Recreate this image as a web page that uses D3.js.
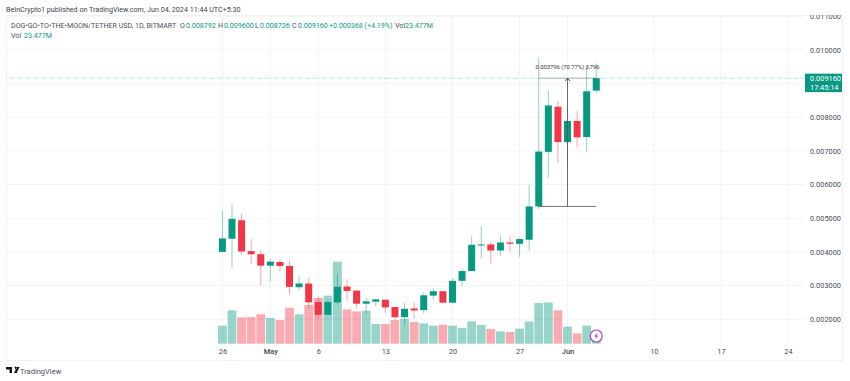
<!DOCTYPE html>
<html>
<head>
<meta charset="utf-8">
<script src="https://cdn.jsdelivr.net/npm/d3@7"></script>
<style>
  html, body { margin: 0; padding: 0; background: #fff; }
  svg { display: block; font-family: Roboto, "Liberation Sans", sans-serif; }
</style>
</head>
<body>
<div id="chart"></div>
<script>
// day 0 = Apr 26, one row per daily candle
var opens  = [.00400,.00439,.00494,.00402,.00393,.00359,.00370,.00358,.00295,.00306,.00251,.00213,.00250,.00297,.00285,.00246,.00252,.00258,.00236,.00206,.00232,.00227,.00270,.00283,.00249,.00314,.00343,.00421,.00422,.00404,.00428,.00424,.00436,.00535,.00697,.00831,.00726,.00789,.00741,.00879];
var highs  = [.00523,.00541,.00515,.00438,.00403,.00379,.00378,.00373,.00328,.00321,.00267,.00258,.00337,.00319,.00285,.00265,.00259,.00258,.00238,.00248,.00250,.00280,.00292,.00283,.00321,.00349,.00446,.00477,.00431,.00448,.00448,.00441,.00599,.00978,.00880,.00849,.00830,.00819,.00950,.00960];
var lows   = [.00400,.00353,.00394,.00364,.00300,.00311,.00341,.00273,.00285,.00231,.00200,.00213,.00243,.00253,.00231,.00217,.00238,.00217,.00198,.00183,.00202,.00217,.00258,.00249,.00249,.00300,.00343,.00381,.00365,.00389,.00400,.00384,.00403,.00527,.00620,.00664,.00663,.00711,.00697,.00873];
var closes = [.00440,.00498,.00401,.00393,.00359,.00371,.00358,.00296,.00306,.00250,.00213,.00251,.00296,.00284,.00246,.00253,.00259,.00235,.00206,.00231,.00226,.00271,.00283,.00249,.00314,.00343,.00421,.00422,.00404,.00428,.00424,.00438,.00535,.00698,.00835,.00726,.00789,.00740,.00877,.00916];
var volumes = [157,290,229,232,255,224,206,313,255,337,398,418,713,298,281,287,171,171,206,215,189,177,157,165,157,137,194,163,128,107,102,131,194,354,359,290,148,90,157,23.477];

var priceTicks = [.011,.010,.008,.007,.006,.005,.004,.003,.002];
var gridPrices = [.011,.010,.009,.008,.007,.006,.005,.004,.003,.002];
var dayTicks = [0,5,10,17,24,31,36,45,52,59];
var dayLabels = ["26","May","6","13","20","27","Jun","10","17","24"];

var lastPrice = .00916;
var measureFrom = .00535;

var width = 850, height = 381;
var frame = {left: 6, right: 842, top: 15, bottom: 360, plotRight: 805};

var green = "#089981", red = "#f23645";
var textColor = "#4a4e5a";

var x = d3.scaleLinear().domain([0, 59]).range([222.4, 788]);
var y = d3.scaleLinear().domain([.002, .011]).range([319.2, 16.2]);
var yVol = d3.scaleLinear().domain([0, 713]).range([343.7, 261.7]);

var svg = d3.select("#chart").append("svg")
    .attr("width", width)
    .attr("height", height)
    .attr("viewBox", [0, 0, width, height]);

svg.append("clipPath").attr("id", "frame-clip")
  .append("rect")
    .attr("x", frame.left).attr("y", frame.top)
    .attr("width", frame.right - frame.left)
    .attr("height", frame.bottom - frame.top);

// frame
svg.append("rect")
    .attr("x", frame.left + .5).attr("y", frame.top + .5)
    .attr("width", frame.right - frame.left)
    .attr("height", frame.bottom - frame.top)
    .attr("fill", "none")
    .attr("stroke", "#eef0f5");

// grid
svg.append("g").selectAll("line")
  .data(gridPrices)
  .join("line")
    .attr("x1", frame.left).attr("x2", frame.plotRight)
    .attr("y1", d => y(d)).attr("y2", d => y(d))
    .attr("stroke", "#f3f4f7");

svg.append("g").selectAll("line")
  .data(dayTicks)
  .join("line")
    .attr("x1", d => x(d)).attr("x2", d => x(d))
    .attr("y1", frame.top).attr("y2", yVol(0))
    .attr("stroke", "#f3f4f7");

// volume bars
svg.append("g").selectAll("rect")
  .data(volumes)
  .join("rect")
    .attr("x", (d, i) => x(i) - 4.4)
    .attr("width", 8.8)
    .attr("y", d => yVol(d))
    .attr("height", d => yVol(0) - yVol(d))
    .attr("fill", (d, i) => closes[i] >= opens[i] ? green : red)
    .attr("fill-opacity", .42);

// wicks
svg.append("g").selectAll("line")
  .data(opens)
  .join("line")
    .attr("x1", (d, i) => x(i)).attr("x2", (d, i) => x(i))
    .attr("y1", (d, i) => y(highs[i]))
    .attr("y2", (d, i) => y(lows[i]))
    .attr("stroke", (d, i) => closes[i] >= d ? green : red)
    .attr("stroke-opacity", .45);

// candle bodies
svg.append("g").selectAll("rect")
  .data(opens)
  .join("rect")
    .attr("x", (d, i) => x(i) - 3.5)
    .attr("width", 7)
    .attr("y", (d, i) => y(Math.max(d, closes[i])))
    .attr("height", (d, i) => Math.max(1, Math.abs(y(d) - y(closes[i]))))
    .attr("fill", (d, i) => closes[i] >= d ? green : red);

// last price line
svg.append("line")
    .attr("x1", frame.left).attr("x2", frame.plotRight)
    .attr("y1", y(lastPrice)).attr("y2", y(lastPrice))
    .attr("stroke", green)
    .attr("stroke-opacity", .35)
    .attr("stroke-dasharray", "1 1");

// measure tool
var measure = svg.append("g").attr("stroke", "#555").attr("fill", "none");
measure.append("line")
    .attr("x1", x(33)).attr("x2", x(39))
    .attr("y1", y(measureFrom)).attr("y2", y(measureFrom))
    .attr("stroke-opacity", .8);
measure.append("line")
    .attr("x1", x(33)).attr("x2", x(39))
    .attr("y1", y(lastPrice)).attr("y2", y(lastPrice))
    .attr("stroke-opacity", .4);
measure.append("line")
    .attr("x1", x(36)).attr("x2", x(36))
    .attr("y1", y(measureFrom)).attr("y2", y(lastPrice))
    .attr("stroke-opacity", .85);
measure.append("path")
    .attr("d", d3.line()([[x(36) - 2.5, y(lastPrice) + 3], [x(36), y(lastPrice)], [x(36) + 2.5, y(lastPrice) + 3]]));
svg.append("text")
    .attr("x", x(36))
    .attr("y", y(lastPrice) - 9.5)
    .attr("text-anchor", "middle")
    .attr("font-size", 5.8)
    .attr("fill", "#333")
    .text("0.003796 (70.77%) 3,796");

// price axis
var yAxis = svg.append("g")
    .attr("clip-path", "url(#frame-clip)")
  .append("g")
    .attr("transform", `translate(${frame.plotRight + 1},0)`)
    .call(d3.axisRight(y).tickValues(priceTicks).tickFormat(d3.format(".6f")).tickSize(0).tickPadding(4))
    .call(g => g.select(".domain").remove());
yAxis.selectAll("text")
    .attr("font-family", "Roboto, sans-serif")
    .attr("font-size", 7.4)
    .attr("fill", textColor);

// time axis
var xAxis = svg.append("g")
    .attr("transform", `translate(0,${yVol(0)})`)
    .call(d3.axisBottom(x).tickValues(dayTicks).tickFormat((d, i) => dayLabels[i]).tickSize(0).tickPadding(5))
    .call(g => g.select(".domain").remove());
xAxis.selectAll("text")
    .attr("font-family", "Roboto, sans-serif")
    .attr("font-size", 7.4)
    .attr("fill", textColor)
    .attr("font-weight", (d, i) => isNaN(+dayLabels[i]) ? 600 : 400);

// last price tag
svg.append("rect")
    .attr("x", frame.plotRight).attr("y", y(lastPrice) - 4.5)
    .attr("width", frame.right - frame.plotRight).attr("height", 18.5)
    .attr("fill", green);
var tag = svg.append("g").attr("fill", "#fff").attr("font-size", 7.4);
tag.append("text").attr("x", frame.plotRight + 5).attr("y", y(lastPrice) + 3).text("0.009160");
tag.append("text").attr("x", frame.plotRight + 5).attr("y", y(lastPrice) + 11.5).text("17:45:14");

// lightning badge
var badge = svg.append("g").attr("transform", `translate(${x(39)},336)`);
badge.append("circle").attr("r", 6).attr("fill", "#fff").attr("stroke", "#ab47bc").attr("stroke-width", 1.2);
badge.append("path").attr("d", "M1,-3.5L-2,.5H-.2L-1,3.5L2,-.5H.2Z").attr("fill", "#ab47bc");

// header
svg.append("text").attr("x", 6).attr("y", 12)
    .attr("font-size", 7.15).attr("fill", "#3b3f4a")
    .text("BeInCrypto1 published on TradingView.com, Jun 04, 2024 11:44 UTC+5:30");

var legendParts = [
  {x: 11, t: "DOG\u2022GO\u2022TO\u2022THE\u2022MOON/TETHER USD, 1D, BITMART", c: textColor},
  {x: 180, t: "O", c: textColor}, {x: 186, t: "0.008792", c: green},
  {x: 218, t: "H", c: textColor}, {x: 224, t: "0.009600", c: green},
  {x: 255, t: "L", c: textColor}, {x: 260, t: "0.008726", c: green},
  {x: 292, t: "C", c: textColor}, {x: 298, t: "0.009160", c: green},
  {x: 329, t: "+0.000368 (+4.19%)", c: green},
  {x: 395, t: "Vol", c: textColor}, {x: 405, t: "23.477M", c: green}
];
svg.append("g").selectAll("text")
  .data(legendParts)
  .join("text")
    .attr("x", d => d.x).attr("y", 28)
    .attr("font-size", 7.1)
    .attr("fill", d => d.c)
    .text(d => d.t);
svg.append("text").attr("x", 11).attr("y", 38).attr("font-size", 7.1).attr("fill", textColor).text("Vol");
svg.append("text").attr("x", 24).attr("y", 38).attr("font-size", 7.1).attr("fill", green).text("23.477M");

// watermark
svg.append("path")
    .attr("d", "M6,367H12V373H9.5V369.5H6ZM14.5,367.8A1.2,1.2 0 1 0 14.5,367.79ZM16.8,367H19.5L16.8,373H14Z")
    .attr("fill", "#131722");
svg.append("text").attr("x", 20).attr("y", 373.5)
    .attr("font-size", 7.5).attr("fill", "#4a4e5a")
    .text("TradingView");
</script>
</body>
</html>
